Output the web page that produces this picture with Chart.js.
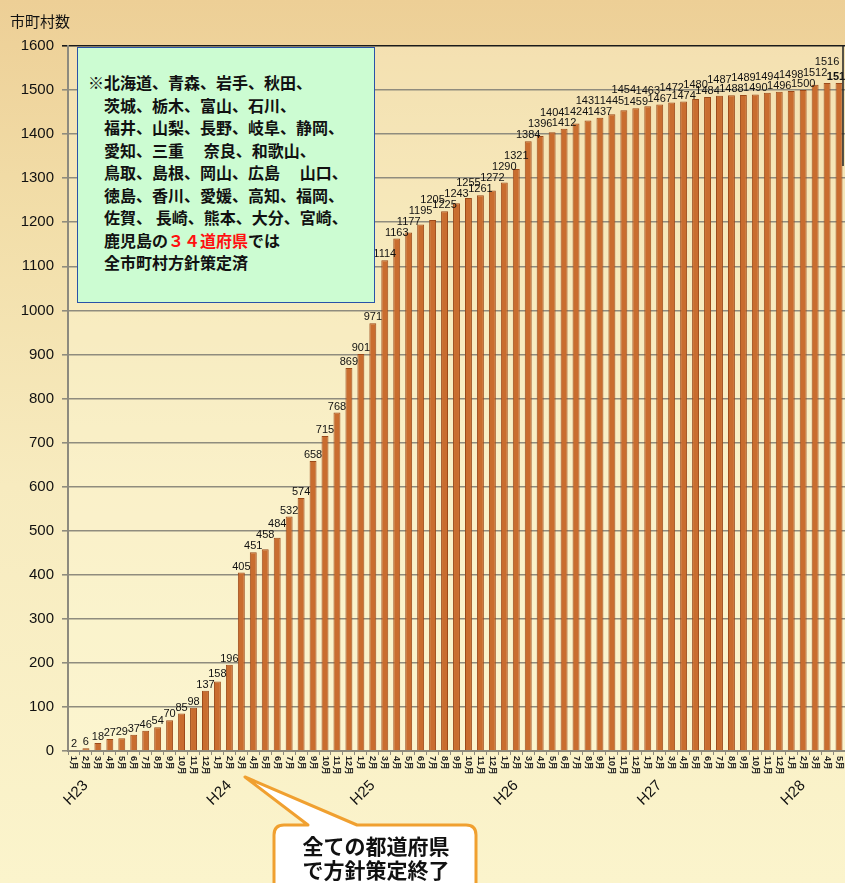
<!DOCTYPE html>
<html lang="ja">
<head>
<meta charset="utf-8">
<script src="https://cdn.jsdelivr.net/npm/chart.js@4.4.1/dist/chart.umd.min.js"></script>
<style>
  html, body { margin: 0; padding: 0; }
  body { width: 845px; height: 883px; overflow: hidden;
    background: linear-gradient(to bottom, #edcf96 0%, #f2dea9 25%, #f7ebbf 55%, #fbf4cc 100%); }
  #wrap { position: relative; width: 845px; height: 883px; }
  canvas { position: absolute; left: 0; top: 0; }
  #note { position: absolute; left: 77px; top: 47px; width: 296px; height: 254px;
    background: #ccfcd2; border: 1.5px solid #2a52a8; box-sizing: content-box;
    font-family: "Noto Sans CJK JP", sans-serif; font-weight: bold; font-size: 16px;
    color: #111; }
  #note div { position: absolute; left: 10px; white-space: pre; line-height: 20px; }
  #note .red { color: #ff1010; }
  #callout { position: absolute; left: 0; top: 0; }
  #calloutText { position: absolute; left: 274px; top: 833px; width: 204px; text-align: center;
    font-family: "Noto Sans CJK JP", sans-serif; font-weight: bold; font-size: 21px;
    line-height: 24px; color: #111; }
</style>
</head>
<body>
<div id="wrap">
  <canvas id="c" width="845" height="883"></canvas>
  <div id="note"></div>
  <svg id="callout" width="845" height="883">
    <path d="M308,825 L245,777 L357,825 L466,825 Q476,825 476,835 L476,895 L274,895 L274,835 Q274,825 284,825 Z"
      fill="#ffffff" stroke="#f0a030" stroke-width="3" stroke-linejoin="round"/>
  </svg>
  <div id="calloutText">全ての都道府県<br>で方針策定終了</div>
</div>
<script>
// ---- data ----
const years = ['H23', 'H24', 'H25', 'H26', 'H27', 'H28'];
const monthsInYear = [12, 12, 12, 12, 12, 5];
const counts = [
  2, 6, 18, 27, 29, 37, 46, 54, 70, 85, 98, 137,
  158, 196, 405, 451, 458, 484, 532, 574, 658, 715, 768, 869,
  901, 971, 1114, 1163, 1177, 1195, 1205, 1225, 1243, 1255, 1261, 1272,
  1290, 1321, 1384, 1396, 1404, 1412, 1424, 1431, 1437, 1445, 1454, 1459,
  1463, 1467, 1472, 1474, 1480, 1484, 1487, 1488, 1489, 1490, 1494, 1496,
  1498, 1500, 1512, 1516, 1516
];
const yTicks = [0, 100, 200, 300, 400, 500, 600, 700, 800, 900, 1000, 1100, 1200, 1300, 1400, 1500, 1600];
const yTitle = '市町村数';
const noteLines = [
  '※北海道、青森、岩手、秋田、',
  '　茨城、栃木、富山、石川、',
  '　福井、山梨、長野、岐阜、静岡、',
  '　愛知、三重　 奈良、和歌山、',
  '　鳥取、島根、岡山、広島　 山口、',
  '　徳島、香川、愛媛、高知、福岡、',
  '　佐賀、 長崎、熊本、大分、宮崎、',
  '　鹿児島の<span class="red">３４道府県</span>では',
  '　全市町村方針策定済'
];

// categories built from the small arrays
const categories = [];
const monthNames = [];
const yearStart = {};
years.forEach((y, yi) => {
  for (let m = 1; m <= monthsInYear[yi]; m++) {
    if (m === 1) yearStart[categories.length] = y;
    categories.push(y + ' ' + m + '月');
    monthNames.push(m + '月');
  }
});

// note box text
const note = document.getElementById('note');
noteLines.forEach((t, i) => {
  const d = document.createElement('div');
  d.style.top = (24 + i * 22.5) + 'px';
  d.innerHTML = t;
  note.appendChild(d);
});

const FONT = '"Liberation Sans", Arial, sans-serif';

const decor = {
  id: 'decor',
  beforeDraw(chart) {
    const { ctx, chartArea: a } = chart;
    ctx.save();
    ctx.fillStyle = 'rgba(255,252,220,0.35)';
    ctx.fillRect(a.left, a.top, a.right - a.left, a.bottom - a.top);
    ctx.restore();
  },
  afterDatasetsDraw(chart) {
    const { ctx } = chart;
    const meta = chart.getDatasetMeta(0);
    ctx.save();
    ctx.fillStyle = '#111';
    ctx.textAlign = 'center';
    ctx.textBaseline = 'alphabetic';
    let prev = null;
    meta.data.forEach((bar, i) => {
      const v = counts[i];
      const last = i === meta.data.length - 1;
      ctx.font = (last ? 'bold ' : '') + '11px ' + FONT;
      const txt = String(v);
      const w = ctx.measureText(txt).width;
      let yb = bar.y - 3;
      let high = false;
      const x0 = bar.x - w / 2, x1 = bar.x + w / 2;
      if (prev && x0 < prev.x1 - 1) {
        if (!prev.high) {
          if (Math.abs(yb - prev.yb) < 11) { yb = prev.yb - 11; high = true; }
        } else if (yb > prev.yb - 11 && yb < prev.yb + 4) {
          yb = prev.yb - 11; high = true;
        }
      }
      ctx.fillText(txt, bar.x, yb);
      prev = { x1, yb, high };
    });
    ctx.restore();
  },
  afterDraw(chart) {
    const { ctx, chartArea: a } = chart;
    const xs = chart.scales.x;
    ctx.save();
    // right frame line
    ctx.strokeStyle = '#222';
    ctx.lineWidth = 1.5;
    ctx.beginPath();
    ctx.moveTo(a.right - 2, a.top);
    ctx.lineTo(a.right - 2, a.top + 120);
    ctx.stroke();
    // axis title
    ctx.fillStyle = '#111';
    ctx.font = '15px "Noto Sans CJK JP", sans-serif';
    ctx.textAlign = 'left';
    ctx.textBaseline = 'middle';
    ctx.fillText(yTitle, 10, 21);
    // month labels (rotated clockwise)
    ctx.font = 'bold 9px ' + FONT;
    ctx.fillStyle = '#222';
    monthNames.forEach((t, i) => {
      const x = xs.getPixelForValue(i);
      ctx.save();
      ctx.translate(x, a.bottom + 5);
      ctx.rotate(Math.PI / 2);
      ctx.textAlign = 'left';
      ctx.textBaseline = 'middle';
      ctx.fillText(t, 0, 0);
      ctx.restore();
    });
    // year labels
    ctx.font = '15px ' + FONT;
    ctx.fillStyle = '#111';
    Object.keys(yearStart).forEach(k => {
      const x = xs.getPixelForValue(Number(k));
      ctx.save();
      ctx.translate(x + 2, a.bottom + 42);
      ctx.rotate(-Math.PI / 4);
      ctx.textAlign = 'center';
      ctx.textBaseline = 'middle';
      ctx.fillText(yearStart[k], 0, 0);
      ctx.restore();
    });
    ctx.restore();
  }
};

new Chart(document.getElementById('c'), {
  type: 'bar',
  data: {
    labels: categories,
    datasets: [{
      data: counts,
      backgroundColor: '#c96d2f',
      borderColor: '#9c4a1a',
      borderWidth: 1,
      barPercentage: 0.58,
      categoryPercentage: 1.0
    }]
  },
  options: {
    responsive: false,
    animation: false,
    devicePixelRatio: 1,
    layout: { padding: { top: 46, right: 0, left: 0, bottom: 0 } },
    plugins: { legend: { display: false }, tooltip: { enabled: false }, title: { display: false } },
    scales: {
      x: {
        type: 'category',
        offset: true,
        grid: { display: true, drawOnChartArea: false, drawTicks: true, tickLength: 4, color: '#8d8a7e', offset: true },
        border: { display: true, color: '#8d8a7e', width: 2 },
        ticks: { display: false },
        afterFit(s) { s.height = 132; }
      },
      y: {
        min: 0, max: 1600,
        afterBuildTicks(s) { s.ticks = yTicks.map(v => ({ value: v })); },
        grid: {
          color: c => (c.tick && c.tick.value === 1600) ? '#1a1a1a' : '#8f8c7e',
          lineWidth: 1.6,
          tickLength: 6,
          drawTicks: true
        },
        border: { display: true, color: '#8d8a7e', width: 2 },
        ticks: { font: { family: FONT, size: 15 }, color: '#111', padding: 8, callback: v => String(v) },
        afterFit(s) { s.width = 68; }
      }
    }
  },
  plugins: [decor]
});
</script>
</body>
</html>
